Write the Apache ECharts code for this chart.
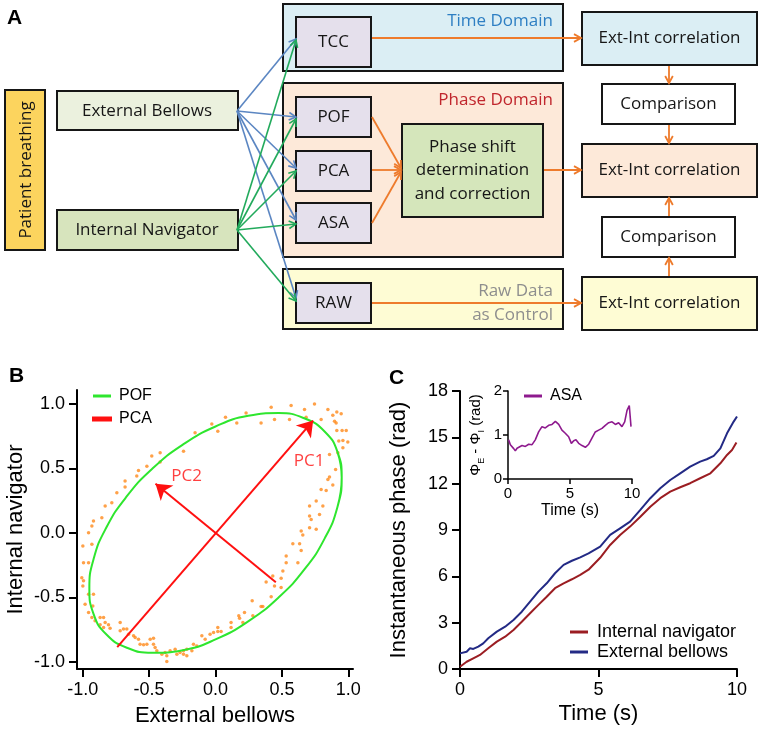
<!DOCTYPE html>
<html><head><meta charset="utf-8">
<script src="https://cdn.jsdelivr.net/npm/echarts@6/dist/echarts.min.js"></script>
<style>html,body{margin:0;padding:0;background:#fff}#c{width:759px;height:730px}</style>
</head><body><div id="c"></div>
<script>
// ================= DATA =================
// Panel A (diagram texts)
const patientLabel = 'Patient breathing';
const sourceLabels = ['External Bellows', 'Internal Navigator'];
const methodLabels = ['TCC', 'POF', 'PCA', 'ASA', 'RAW'];
const domainLabels = ['Time Domain', 'Phase Domain', 'Raw Data\nas Control'];
const correctionLabel = 'Phase shift\ndetermination\nand correction';
const resultLabels = ['Ext-Int correlation', 'Ext-Int correlation', 'Ext-Int correlation'];
const compareLabels = ['Comparison', 'Comparison'];

// Panel B
const bTicks = [-1.0, -0.5, 0.0, 0.5, 1.0];
const bellowsNavigator = [
 [-0.028,0.845],[-0.154,0.776],[-0.241,0.634],[-0.417,0.621],[-0.480,0.596],[-0.417,0.551],[-0.517,0.518],[-0.580,0.484],[-0.593,0.441],[-0.681,0.402],[-0.681,0.356],[-0.743,0.312],[-0.781,0.234],[-0.831,0.209],[-0.856,0.118],[-0.919,0.093],[-0.931,0.054],[-0.956,0.002],[-0.931,-0.088],[-0.999,-0.101],[-0.994,-0.230],[-0.956,-0.230],[-1.007,-0.346],[-0.994,-0.371],[-0.999,-0.410],[-0.956,-0.475],[-0.919,-0.475],[-0.982,-0.552],[-0.924,-0.565],[-0.956,-0.616],[-0.931,-0.655],[-0.907,-0.681],[-0.869,-0.655],[-0.843,-0.655],[-0.831,-0.693],[-0.869,-0.712],[-0.843,-0.732],[-0.806,-0.712],[-0.794,-0.738],[-0.718,-0.693],[-0.718,-0.758],[-0.693,-0.745],[-0.668,-0.745],[-0.655,-0.784],[-0.617,-0.797],[-0.605,-0.810],[-0.580,-0.823],[-0.568,-0.862],[-0.542,-0.867],[-0.517,-0.862],[-0.492,-0.823],[-0.467,-0.815],[-0.467,-0.862],[-0.455,-0.887],[-0.442,-0.913],[-0.404,-0.939],[-0.380,-0.926],[-0.367,-0.951],[-0.367,-0.995],[-0.342,-0.913],[-0.304,-0.900],[-0.291,-0.939],[-0.267,-0.926],[-0.241,-0.913],[-0.216,-0.900],[-0.241,-0.939],[-0.216,-0.951],[-0.178,-0.913],[-0.166,-0.862],[-0.141,-0.875],[-0.103,-0.797],[-0.078,-0.823],[-0.041,-0.784],[-0.015,-0.771],
 [0.017,0.789],[0.075,0.897],[0.160,0.853],[0.230,0.930],[0.343,0.853],[0.419,0.974],[0.444,0.879],[0.557,0.879],[0.569,0.987],[0.670,0.956],[0.682,0.897],[0.745,1.000],[0.795,0.879],[0.846,0.956],[0.883,0.913],[0.896,0.866],[0.913,0.938],[0.946,0.923],[0.908,0.853],[0.913,0.794],[0.953,0.794],[0.984,0.794],[0.928,0.712],[0.959,0.716],[0.996,0.706],[0.959,0.660],[0.921,0.621],[0.858,0.608],[0.904,0.492],[0.858,0.433],[0.846,0.415],[0.883,0.371],[0.795,0.337],[0.833,0.329],[0.758,0.247],[0.808,0.209],[0.708,0.209],[0.708,0.131],[0.783,0.144],[0.720,0.105],[0.708,0.041],[0.758,0.028],[0.645,0.015],[0.657,-0.015],[0.582,-0.083],[0.633,-0.083],[0.645,-0.135],[0.532,-0.178],[0.532,-0.230],[0.620,-0.230],[0.507,-0.294],[0.431,-0.333],[0.494,-0.351],[0.381,-0.379],[0.444,-0.410],[0.494,-0.423],[0.419,-0.495],[0.276,-0.526],[0.343,-0.570],[0.356,-0.570],[0.218,-0.616],[0.175,-0.642],[0.181,-0.661],[0.206,-0.694],[0.117,-0.694],[0.117,-0.732],[0.281,-0.642],[0.017,-0.732],[0.017,-0.763],[0.042,-0.763]
];
// fitted POF ellipse (closed loop, first points repeated to close smoothly)
const pofEllipse = [
 [0.918,0.202],[0.95,0.43],[0.918,0.629],[0.823,0.785],[0.672,0.887],[0.475,0.929],[0.246,0.908],[0,0.825],[-0.246,0.685],[-0.475,0.499],[-0.672,0.279],[-0.823,0.040],[-0.918,-0.202],[-0.95,-0.43],[-0.918,-0.629],[-0.823,-0.785],[-0.672,-0.887],[-0.475,-0.929],[-0.246,-0.908],[0,-0.825],[0.246,-0.685],[0.475,-0.499],[0.672,-0.279],[0.823,-0.040],[0.918,0.202],[0.95,0.43],[0.918,0.629]
];
const pcaStart = [[-0.740,-0.884],[0.454,-0.382]];
const pcaEnd = [[0.735,0.871],[-0.452,0.382]];
const pcNames = ['PC1', 'PC2'];
const pcLabelPos = [[0.705,0.554],[-0.218,0.438]];

// Panel C
const cXTicks = [0, 5, 10];
const cYTicks = [0, 3, 6, 9, 12, 15, 18];
const timeExt = [0,0.24,0.36,0.48,0.66,0.84,1.02,1.33,1.63,1.93,2.23,2.53,2.83,3.13,3.43,3.74,4.04,4.34,4.64,5.06,5.42,5.78,6.14,6.51,6.87,7.23,7.59,7.95,8.31,8.67,8.91,9.16,9.40,9.64,9.88,10.0];
const externalBellows = [1.01,1.12,1.34,1.30,1.45,1.66,1.99,2.42,2.74,3.17,3.71,4.36,5.01,5.55,6.20,6.74,7.01,7.23,7.49,7.92,8.68,9.11,9.54,10.30,11.06,11.70,12.24,12.67,13.10,13.43,13.58,13.80,14.29,15.26,16.02,16.35];
const timeInt = [0,0.24,0.48,0.72,1.02,1.33,1.63,1.93,2.23,2.53,2.83,3.13,3.43,3.74,4.04,4.34,4.64,5.06,5.42,5.78,6.14,6.51,6.87,7.23,7.59,7.95,8.31,8.67,9.04,9.40,9.64,9.82,9.98];
const internalNavigator = [0.15,0.47,0.69,0.91,1.34,1.77,2.09,2.53,3.06,3.61,4.15,4.68,5.23,5.55,5.81,6.09,6.43,7.20,8.03,8.68,9.22,9.86,10.51,11.06,11.48,11.77,12.03,12.35,12.67,13.32,13.86,14.18,14.66];
const insetXTicks = [0, 5, 10];
const insetYTicks = [0, 1, 2];
const timeAsa = [0.05,0.19,0.32,0.46,0.59,0.73,0.86,1.13,1.40,1.67,1.94,2.20,2.47,2.74,3.01,3.28,3.55,3.82,4.09,4.35,4.62,4.89,5.11,5.30,5.48,5.70,5.97,6.24,6.51,6.77,7.04,7.31,7.58,7.85,8.12,8.39,8.66,8.92,9.19,9.41,9.60,9.78,9.87,9.92];
const asaPhaseDiff = [0.89,0.78,0.74,0.69,0.64,0.70,0.67,0.76,0.74,0.79,0.78,0.89,1.07,1.19,1.16,1.22,1.24,1.31,1.24,1.11,1.04,0.96,0.81,0.87,0.89,0.81,0.76,0.72,0.79,0.93,1.07,1.11,1.15,1.22,1.28,1.30,1.24,1.28,1.19,1.30,1.56,1.67,1.70,1.19];

// ================= DIAGRAM (panel A) =================
const BOXF = '"Open Sans", sans-serif';
const ARIAL = '"Liberation Sans", Arial, sans-serif';
const diagram = [];
function box(x, y, w, h, fill) {
  diagram.push({type:'rect', shape:{x:x, y:y, width:w, height:h}, style:{fill:fill, stroke:'#161616', lineWidth:2}});
}
function label(x, y, text, o) {
  o = o || {};
  diagram.push({type:'text', x:x, y:y, rotation:o.rot || 0, z:10,
    style:{text:text, fill:o.color || '#161616', fontSize:o.size || 17, fontFamily:o.family || BOXF,
      fontWeight:o.weight || 'normal', align:o.align || 'center', verticalAlign:o.va || 'middle',
      textAlign:o.align || 'center', textVerticalAlign:o.va || 'middle', lineHeight:o.lh || 23.5}});
}
function arrow(x1, y1, x2, y2, color, w) {
  const a = Math.atan2(y2 - y1, x2 - x1), L = 8, s = 0.5;
  diagram.push({type:'line', z:5, shape:{x1:x1, y1:y1, x2:x2, y2:y2}, style:{stroke:color, lineWidth:w || 1.6}});
  diagram.push({type:'polyline', z:5, shape:{points:[[x2 - L*Math.cos(a - s), y2 - L*Math.sin(a - s)], [x2, y2], [x2 - L*Math.cos(a + s), y2 - L*Math.sin(a + s)]]},
    style:{stroke:color, lineWidth:w || 1.6, fill:null}});
}
// domain boxes
box(283, 4, 280, 67, '#dbeef4');
box(283, 83, 280, 174, '#fde9d9');
box(283, 269, 280, 60, '#fefcd4');
label(553, 21, domainLabels[0], {align:'right', color:'#2e7fc3'});
label(553, 100, domainLabels[1], {align:'right', color:'#c0262d'});
label(553, 303, domainLabels[2], {align:'right', color:'#8e8e8e'});
// left boxes
box(5, 90, 40, 160, '#fcd45e');
label(26, 170, patientLabel, {rot:Math.PI/2});
box(57, 91, 181, 39, '#ebf1de');
label(147, 111, sourceLabels[0]);
box(57, 210, 181, 40, '#d7e4bd');
label(147, 230, sourceLabels[1]);
// method boxes
const methodY = [17, 97, 151, 203, 283];
const methodH = [50, 40, 40, 40, 40];
methodLabels.forEach(function (t, i) {
  box(296, methodY[i], 75, methodH[i], '#e5e0ec');
  label(333.5, methodY[i] + methodH[i]/2, t);
});
box(402, 124, 141, 93, '#d5e6bb');
label(472.5, 170.5, correctionLabel);
// result / comparison boxes
const resY = [12, 144, 277];
const resFill = ['#dbeef4', '#fde9d9', '#fefcd4'];
resultLabels.forEach(function (t, i) {
  box(582, resY[i], 175, 53, resFill[i]);
  label(669.5, resY[i] + 26.5, t);
});
const cmpY = [84, 217];
compareLabels.forEach(function (t, i) {
  box(602, cmpY[i], 133, 40, '#ffffff');
  label(668.5, cmpY[i] + 20, t);
});
// arrows
const BLUE = '#5b86c2', GREEN = '#22aa5c', ORANGE = '#ee7b2c';
const blueT = [39, 117, 168, 220, 298];
const greenT = [40, 119, 171, 224, 301];
blueT.forEach(function (y) { arrow(237, 111, 296, y, BLUE); });
greenT.forEach(function (y) { arrow(237, 230, 296, y, GREEN); });
arrow(372, 38, 581, 38, ORANGE, 1.8);
arrow(372, 117, 401, 168, ORANGE, 1.8);
arrow(372, 170, 401, 170, ORANGE, 1.8);
arrow(372, 223, 401, 172, ORANGE, 1.8);
arrow(544, 170, 581, 170, ORANGE, 1.8);
arrow(372, 303, 581, 303, ORANGE, 1.8);
arrow(669, 66, 669, 83, ORANGE, 1.8);
arrow(669, 125, 669, 143, ORANGE, 1.8);
arrow(669, 276, 669, 258, ORANGE, 1.8);
arrow(669, 216, 669, 198, ORANGE, 1.8);
// panel letters
function letter(x, y, t) {
  diagram.push({type:'text', x:x, y:y, z:10, style:{text:t, fontSize:21, fontWeight:'bold', fontFamily:ARIAL, fill:'#000',
    align:'left', verticalAlign:'top', textAlign:'left', textVerticalAlign:'top'}});
}
letter(7, 8, 'A');
letter(9, 366, 'B');
letter(389, 368, 'C');

// ================= CHART =================
const chart = echarts.init(document.getElementById('c'), null, {renderer:'canvas'});
function axisCommon(fs, tickLen, lw, margin) {
  return {
    axisLine:{onZero:false, lineStyle:{color:'#000', width:lw}},
    axisTick:{show:true, inside:false, length:tickLen, lineStyle:{color:'#000', width:lw}},
    axisLabel:{fontSize:fs, color:'#000', fontFamily:ARIAL, margin:margin},
    splitLine:{show:false}
  };
}
function mergeAxis(base, extra) {
  const o = Object.assign({}, base, extra);
  ['axisLine','axisTick','axisLabel'].forEach(function (k) {
    if (extra[k]) o[k] = Object.assign({}, base[k], extra[k]);
  });
  return o;
}
const option = {
  animation:false,
  backgroundColor:'#fff',
  textStyle:{fontFamily:ARIAL},
  graphic:{elements:diagram},
  grid:[
    {left:77, top:390, width:276, height:279},
    {left:460, top:391, width:277, height:278},
    {left:508, top:391, width:124, height:88}
  ],
  xAxis:[
    mergeAxis(axisCommon(18, 8, 2, 12), {gridIndex:0, type:'value', min:-1.043, max:1.035,
      axisTick:{customValues:bTicks}, axisLabel:{customValues:bTicks, formatter:function (v) { return v.toFixed(1); }},
      name:'External bellows', nameLocation:'middle', nameGap:36, nameTextStyle:{fontSize:22, color:'#000', fontFamily:ARIAL}}),
    mergeAxis(axisCommon(18, 8, 2, 12), {gridIndex:1, type:'value', min:cXTicks[0], max:cXTicks[cXTicks.length-1], interval:5,
      name:'Time (s)', nameLocation:'middle', nameGap:34, nameTextStyle:{fontSize:22, color:'#000', fontFamily:ARIAL}}),
    mergeAxis(axisCommon(15, 5, 1.5, 7), {gridIndex:2, type:'value', min:insetXTicks[0], max:insetXTicks[insetXTicks.length-1], interval:5,
      name:'Time (s)', nameLocation:'middle', nameGap:24, nameTextStyle:{fontSize:16, color:'#000', fontFamily:ARIAL}})
  ],
  yAxis:[
    mergeAxis(axisCommon(18, 8, 2, 12), {gridIndex:0, type:'value', min:-1.054, max:1.108,
      axisTick:{customValues:bTicks}, axisLabel:{customValues:bTicks, formatter:function (v) { return v.toFixed(1); }},
      name:'Internal navigator', nameLocation:'middle', nameGap:50, nameRotate:90, nameTextStyle:{fontSize:22, color:'#000', fontFamily:ARIAL}}),
    mergeAxis(axisCommon(18, 8, 2, 12), {gridIndex:1, type:'value', min:cYTicks[0], max:cYTicks[cYTicks.length-1], interval:3,
      name:'Instantaneous phase (rad)', nameLocation:'middle', nameGap:50, nameRotate:90, nameTextStyle:{fontSize:22, color:'#000', fontFamily:ARIAL}}),
    mergeAxis(axisCommon(15, 5, 1.5, 6), {gridIndex:2, type:'value', min:insetYTicks[0], max:insetYTicks[insetYTicks.length-1], interval:1,
      name:'{a|Φ}{s|E}{a| - Φ}{s|I}{a| (rad)}', nameLocation:'middle', nameGap:22, nameRotate:90,
      nameTextStyle:{color:'#000', fontFamily:ARIAL, rich:{a:{fontSize:15, color:'#000', lineHeight:20, verticalAlign:'middle'}, s:{fontSize:9, color:'#000', lineHeight:20, verticalAlign:'bottom'}}}})
  ],
  legend:[
    {data:[{name:'POF', icon:'rect'}, {name:'PCA', icon:'rect'}], orient:'vertical', left:92, top:388, padding:0, itemGap:7,
      itemWidth:18, itemHeight:3, textStyle:{fontSize:16, color:'#000', fontFamily:ARIAL, padding:[0,0,0,3]}},
    {data:[{name:'Internal navigator', icon:'rect'}, {name:'External bellows', icon:'rect'}], orient:'vertical', left:570, top:623, padding:0, itemGap:2,
      itemWidth:18, itemHeight:3, textStyle:{fontSize:18, color:'#000', fontFamily:ARIAL, padding:[0,0,0,4]}},
    {data:[{name:'ASA', icon:'rect'}], orient:'vertical', left:524, top:388, padding:0,
      itemWidth:18, itemHeight:3, textStyle:{fontSize:16, color:'#000', fontFamily:ARIAL, padding:[0,0,0,3]}}
  ],
  series:[
    {type:'scatter', name:'samples', xAxisIndex:0, yAxisIndex:0, data:bellowsNavigator, symbol:'circle', symbolSize:3.5,
      itemStyle:{color:'#ff8a1a'}, z:2},
    {type:'line', name:'POF', xAxisIndex:0, yAxisIndex:0, data:pofEllipse, smooth:0.5, showSymbol:false,
      lineStyle:{color:'#2ee62e', width:2}, itemStyle:{color:'#2ee62e'}, z:3},
    {type:'lines', name:'PCA', coordinateSystem:'cartesian2d', xAxisIndex:0, yAxisIndex:0,
      data:pcaStart.map(function (s, i) { return {coords:[s, pcaEnd[i]]}; }),
      symbol:['none', 'arrow'], symbolSize:[1, 15], lineStyle:{color:'#ff1010', width:2, opacity:1}, itemStyle:{color:'#ff1010'}, z:4},
    {type:'scatter', name:'pcLabels', xAxisIndex:0, yAxisIndex:0, symbolSize:0,
      data:pcLabelPos.map(function (p, i) { return {value:p, name:pcNames[i]}; }),
      label:{show:true, position:'inside', formatter:'{b}', color:'#ff1010', fontSize:17, fontFamily:BOXF}, z:5},
    {type:'line', name:'Internal navigator', xAxisIndex:1, yAxisIndex:1, data:timeInt.map(function (t, i) { return [t, internalNavigator[i]]; }),
      showSymbol:false, lineStyle:{color:'#9b1d22', width:2}, itemStyle:{color:'#9b1d22'}},
    {type:'line', name:'External bellows', xAxisIndex:1, yAxisIndex:1, data:timeExt.map(function (t, i) { return [t, externalBellows[i]]; }),
      showSymbol:false, lineStyle:{color:'#232a85', width:2}, itemStyle:{color:'#232a85'}},
    {type:'line', name:'ASA', xAxisIndex:2, yAxisIndex:2, data:timeAsa.map(function (t, i) { return [t, asaPhaseDiff[i]]; }),
      showSymbol:false, lineStyle:{color:'#8e1a8e', width:1.6}, itemStyle:{color:'#8e1a8e'}}
  ]
};
chart.setOption(option);
</script>
</body></html>
